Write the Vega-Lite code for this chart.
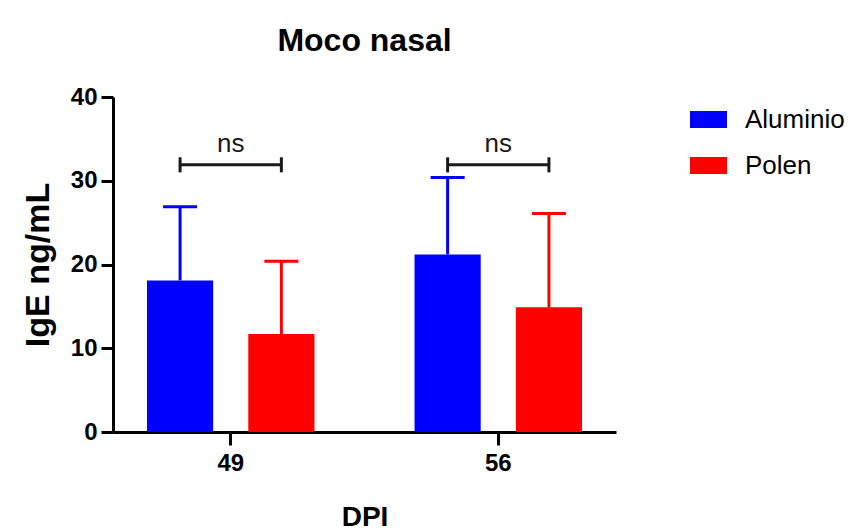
{
  "$schema": "https://vega.github.io/schema/vega-lite/v6.json",
  "width": 503,
  "height": 335,
  "autosize": {"type": "none"},
  "padding": {"left": 113, "top": 97, "right": 234, "bottom": 99},
  "background": "white",
  "config": {
    "font": "Liberation Sans",
    "view": {"stroke": null},
    "axis": {"grid": false, "domainColor": "#000", "tickColor": "#000", "labelColor": "#000", "titleColor": "#000", "domainWidth": 3, "tickWidth": 3}
  },
  "title": {"text": "Moco nasal", "anchor": "middle", "frame": "group", "fontSize": 32, "fontWeight": "bold", "color": "#000", "baseline": "alphabetic", "offset": 2},
  "datasets": {
    "medias": [
      {"DPI": "49", "Grupo": "Aluminio", "media": 18.1, "sup": 26.9},
      {"DPI": "49", "Grupo": "Polen", "media": 11.7, "sup": 20.4},
      {"DPI": "56", "Grupo": "Aluminio", "media": 21.2, "sup": 30.4},
      {"DPI": "56", "Grupo": "Polen", "media": 14.9, "sup": 26.1}
    ],
    "corchetes": [
      {"DPI": "49", "Grupo": "Aluminio", "nivel": 31.9, "bajo": 31.0, "alto": 32.8},
      {"DPI": "49", "Grupo": "Polen", "nivel": 31.9, "bajo": 31.0, "alto": 32.8},
      {"DPI": "56", "Grupo": "Aluminio", "nivel": 31.9, "bajo": 31.0, "alto": 32.8},
      {"DPI": "56", "Grupo": "Polen", "nivel": 31.9, "bajo": 31.0, "alto": 32.8}
    ],
    "sig": [
      {"DPI": "49", "texto": "ns", "nivel": 33.4},
      {"DPI": "56", "texto": "ns", "nivel": 33.4}
    ]
  },
  "encoding": {
    "x": {
      "field": "DPI", "type": "nominal",
      "scale": {"domain": ["49", "56"], "paddingInner": 0.25, "paddingOuter": 0.065},
      "axis": {"title": "DPI", "labelAngle": 0, "tickSize": 13, "labelFontSize": 24, "labelFontWeight": "bold", "labelPadding": 6, "titleFontSize": 28, "titleFontWeight": "bold", "titleY": 93, "titleBaseline": "alphabetic"}
    }
  },
  "layer": [
    {
      "data": {"name": "medias"},
      "mark": {"type": "bar", "opacity": 1},
      "encoding": {
        "xOffset": {"field": "Grupo", "type": "nominal", "scale": {"domain": ["Aluminio", "Polen"], "paddingInner": 0.347, "paddingOuter": 0.164}},
        "y": {
          "field": "media", "type": "quantitative",
          "scale": {"domain": [0, 40], "nice": false},
          "axis": {"values": [0, 10, 20, 30, 40], "tickSize": 12, "labelFontSize": 24, "labelFontWeight": "bold", "labelPadding": 4, "title": "IgE ng/mL", "titleFontSize": 34, "titleFontWeight": "bold", "titleX": -65, "titleY": 167.5, "titleBaseline": "alphabetic", "titleAngle": -90, "titleAlign": "center"}
        },
        "color": {
          "field": "Grupo", "type": "nominal",
          "scale": {"domain": ["Aluminio", "Polen"], "range": ["#0000FF", "#FF0000"]},
          "legend": {
            "orient": "none", "legendX": 577, "legendY": 4, "title": null,
            "symbolType": "M-1,-0.46H1V0.46H-1Z", "symbolSize": 1369, "symbolStrokeWidth": 0, "symbolOpacity": 1,
            "labelFontSize": 26, "labelColor": "#000", "labelOffset": 18, "rowPadding": 14, "padding": 0,
            "encode": {"symbols": {"update": {"opacity": {"value": 1}, "fillOpacity": {"value": 1}}}}
          }
        }
      }
    },
    {
      "data": {"name": "medias"},
      "mark": {"type": "rule", "strokeWidth": 3},
      "encoding": {
        "xOffset": {"field": "Grupo", "type": "nominal"},
        "y": {"field": "media", "type": "quantitative"},
        "y2": {"field": "sup"},
        "color": {"field": "Grupo", "type": "nominal"}
      }
    },
    {
      "data": {"name": "medias"},
      "mark": {"type": "tick", "orient": "horizontal", "size": 34, "thickness": 3, "opacity": 1},
      "encoding": {
        "xOffset": {"field": "Grupo", "type": "nominal"},
        "y": {"field": "sup", "type": "quantitative"},
        "color": {"field": "Grupo", "type": "nominal"}
      }
    },
    {
      "data": {"name": "corchetes"},
      "mark": {"type": "line", "strokeWidth": 3, "color": "#1a1a1a"},
      "encoding": {
        "xOffset": {"field": "Grupo", "type": "nominal"},
        "y": {"field": "nivel", "type": "quantitative"},
        "detail": {"field": "DPI"}
      }
    },
    {
      "data": {"name": "corchetes"},
      "mark": {"type": "rule", "strokeWidth": 3, "color": "#1a1a1a"},
      "encoding": {
        "xOffset": {"field": "Grupo", "type": "nominal"},
        "y": {"field": "bajo", "type": "quantitative"},
        "y2": {"field": "alto"}
      }
    },
    {
      "data": {"name": "sig"},
      "mark": {"type": "text", "fontSize": 26, "baseline": "alphabetic", "color": "#1a1a1a"},
      "encoding": {
        "y": {"field": "nivel", "type": "quantitative"},
        "text": {"field": "texto"}
      }
    }
  ]
}
